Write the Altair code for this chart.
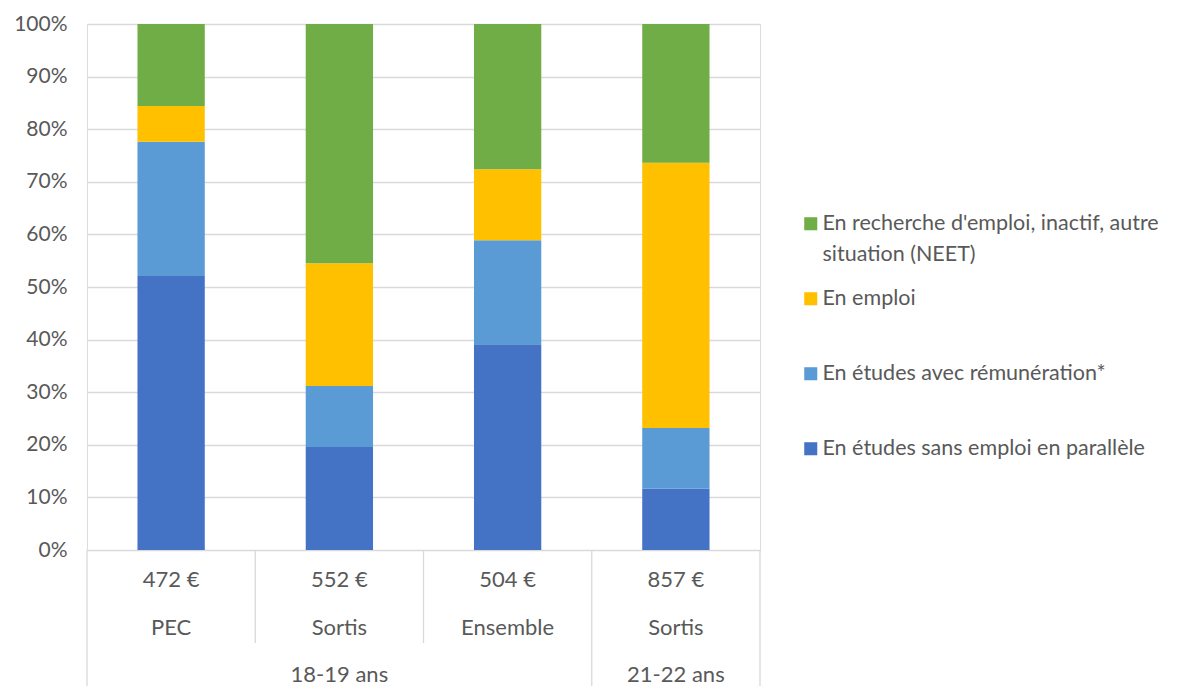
import altair as alt
import pandas as pd

# ---- data ----
keys = ["18-19|PEC", "18-19|Sortis", "18-19|Ensemble", "21-22|Sortis"]
sous_labels = ["PEC", "Sortis", "Ensemble", "Sortis"]
montants = ["472 €", "552 €", "504 €", "857 €"]
groupes = ["18-19 ans", "18-19 ans", "18-19 ans", "21-22 ans"]

series = [
    "En études sans emploi en parallèle",
    "En études avec rémunération*",
    "En emploi",
    "En recherche d'emploi, inactif, autre situation (NEET)",
]
colors = ["#4472C4", "#5B9BD5", "#FFC000", "#70AD47"]

etudes_sans_emploi = [52.1, 19.6, 39.1, 11.7]
etudes_remuneration = [25.5, 11.6, 19.8, 11.5]
en_emploi = [6.8, 23.3, 13.5, 50.4]
neet = [15.6, 45.5, 27.6, 26.4]

values = [etudes_sans_emploi, etudes_remuneration, en_emploi, neet]

rows = []
for si, (s, vals) in enumerate(zip(series, values)):
    for k, v in zip(keys, vals):
        rows.append({"cat": k, "serie": s, "val": v / 100.0, "ordre": si})
df = pd.DataFrame(rows)

cats = pd.DataFrame({"cat": keys, "sous": sous_labels, "montant": montants, "groupe": groupes})

FONT = "Lato"
GREY = "#595959"
FS_AX = 21
FS = 22
FS_LEG = 21.5

XSCALE = alt.Scale(domain=keys, paddingInner=0.6, paddingOuter=0.3)
x_enc = alt.X("cat:N", sort=keys, axis=None, scale=XSCALE)
XSTEP = alt.Scale(domain=keys, paddingInner=0, paddingOuter=0)

legend_order = list(reversed(series))
legend_colors = list(reversed(colors))
NEET = series[3]
label_expr = ("datum.label == \"" + NEET + "\" ? "
              "[\"En recherche d'emploi, inactif, autre\", \"situation (NEET)\"] : datum.label")

bars = alt.Chart(df).mark_bar().encode(
    x=x_enc,
    y=alt.Y("val:Q", stack="zero",
            scale=alt.Scale(domain=[0, 1]),
            axis=alt.Axis(format=".0%", values=[i / 10 for i in range(11)],
                          title=None, domain=False, ticks=False,
                          labelPadding=20, labelFontSize=FS_AX, labelColor=GREY,
                          labelFont=FONT, grid=True, gridColor="#D9D9D9",
                          gridWidth=1.3)),
    color=alt.Color("serie:N",
                    scale=alt.Scale(domain=legend_order, range=legend_colors),
                    legend=alt.Legend(title=None, orient="none", legendX=713, legendY=189,
                                      symbolType="square", symbolSize=170,
                                      symbolStrokeWidth=0,
                                      labelFontSize=FS_LEG, labelColor=GREY, labelFont=FONT,
                                      labelLimit=440, labelOffset=1,
                                      labelExpr=label_expr, gridAlign="all",
                                      rowPadding=21, labelBaseline="middle")),
    order=alt.Order("ordre:Q", sort="ascending"),
)

montant_txt = alt.Chart(cats).mark_text(
    fontSize=FS, font=FONT, color=GREY, baseline="middle"
).encode(x=x_enc, y=alt.value(556), text="montant:N")

sous_txt = alt.Chart(cats).mark_text(
    fontSize=FS, font=FONT, color=GREY, baseline="middle"
).encode(x=x_enc, y=alt.value(604), text="sous:N")

grp_df = pd.DataFrame({"cat": [keys[1], keys[3]], "groupe": ["18-19 ans", "21-22 ans"]})
grp_txt = alt.Chart(grp_df).mark_text(
    fontSize=FS, font=FONT, color=GREY, baseline="middle"
).encode(x=x_enc, y=alt.value(651), text="groupe:N")

tall_left = pd.DataFrame({"cat": [keys[0], keys[3]]})
short_left = pd.DataFrame({"cat": [keys[1], keys[2]]})
right_edge = pd.DataFrame({"cat": [keys[3]]})

rule_style = dict(color="#D9D9D9", strokeWidth=1.3)
r1 = alt.Chart(tall_left).mark_rule(**rule_style).encode(
    x=alt.X("cat:N", sort=keys, axis=None, bandPosition=0, scale=XSTEP),
    y=alt.value(526), y2=alt.value(680))
r2 = alt.Chart(short_left).mark_rule(**rule_style).encode(
    x=alt.X("cat:N", sort=keys, axis=None, bandPosition=0, scale=XSTEP),
    y=alt.value(526), y2=alt.value(619))
r3 = alt.Chart(right_edge).mark_rule(**rule_style).encode(
    x=alt.X("cat:N", sort=keys, axis=None, bandPosition=1, scale=XSTEP),
    y=alt.value(526), y2=alt.value(680))

chart = alt.layer(bars, montant_txt, sous_txt, grp_txt, r1, r2, r3).resolve_scale(
    x="independent"
).properties(
    width=673, height=526,
    autosize=alt.AutoSizeParams(type="none"),
    padding={"left": 79, "top": 16, "right": 412, "bottom": 160},
).configure_view(stroke=None).configure(
    font=FONT,
    style={"guide-label": {"lineHeight": 31}},
)

chart.save("out.html", embed_options={"renderer": "svg", "actions": False})
